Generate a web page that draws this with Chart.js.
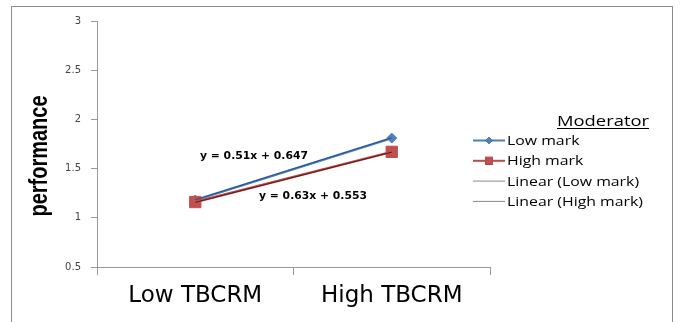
<!DOCTYPE html>
<html>
<head>
<meta charset="utf-8">
<script src="https://cdn.jsdelivr.net/npm/chart.js@4"></script>
<style>
  html, body { margin: 0; padding: 0; background: #fff; }
  #wrap { position: relative; width: 682px; height: 322px; overflow: hidden; }
  #frame { position: absolute; left: 11px; top: 6px; width: 660px; height: 340px; border: 1px solid #8c8c8c; }
  canvas { position: absolute; left: 0; top: 0; }
</style>
</head>
<body>
<div id="wrap">
  <div id="frame"></div>
  <canvas id="c" width="682" height="322"></canvas>
</div>
<script>
var categories = ['Low TBCRM', 'High TBCRM'];
var lowMark = [1.18, 1.81];
var highMark = [1.16, 1.67];
var trendLow = [1.183, 1.813];
var trendHigh = [1.157, 1.667];
var yTicks = [0.5, 1, 1.5, 2, 2.5, 3];
var equations = ['y = 0.63x + 0.553', 'y = 0.51x + 0.647'];
var yTitle = 'performance';
var legendTitle = 'Moderator';

// text stretched sideways to a given width, like the wide original
function wideText(ctx, text, x, y, width) {
  var m = ctx.measureText(text).width;
  ctx.save();
  ctx.translate(x, y);
  ctx.scale(width / m, 1);
  ctx.fillText(text, 0, 0);
  ctx.restore();
}

// legend on the right, drawn by hand so the swatches look like Excel's
var sideLegend = {
  id: 'sideLegend',
  afterDraw: function (chart) {
    var ctx = chart.ctx;
    ctx.save();
    ctx.fillStyle = '#000';
    ctx.font = '14px "Open Sans"';
    ctx.textBaseline = 'alphabetic';
    ctx.textAlign = 'left';
    wideText(ctx, legendTitle, 557, 125.5, 92);
    ctx.strokeStyle = '#000';
    ctx.lineWidth = 1;
    ctx.beginPath();
    ctx.moveTo(557, 128.5);
    ctx.lineTo(649, 128.5);
    ctx.stroke();

    ctx.font = '12px "Open Sans"';
    var k = 136 / ctx.measureText('Linear (High mark)').width;
    chart.data.datasets.forEach(function (ds, i) {
      var y = 140.5 + i * 20.3;
      ctx.strokeStyle = ds.legendColor || ds.borderColor;
      ctx.lineWidth = ds.legendWidth || ds.borderWidth;
      ctx.beginPath();
      ctx.moveTo(473, y);
      ctx.lineTo(505, y);
      ctx.stroke();
      if (ds.pointRadius > 0) {
        Chart.helpers.drawPoint(ctx, {
          pointStyle: ds.pointStyle,
          radius: ds.pointRadius * 0.7,
          rotation: 0
        }, 489, y);
        ctx.fillStyle = ds.pointBackgroundColor;
        ctx.fill();
      }
      ctx.fillStyle = '#000';
      wideText(ctx, ds.label, 507, y + 4.5, ctx.measureText(ds.label).width * k);
    });
    ctx.restore();
  }
};

var extraText = {
  id: 'extraText',
  afterDraw: function (chart) {
    var ctx = chart.ctx;
    ctx.save();
    ctx.fillStyle = '#000';
    ctx.font = 'bold 10px "DejaVu Sans"';
    ctx.textBaseline = 'middle';
    ctx.textAlign = 'left';
    wideText(ctx, equations[1], 200, 156, 108);
    wideText(ctx, equations[0], 259, 196, 108);

    // narrow bold axis title
    ctx.translate(40, 156);
    ctx.rotate(-Math.PI / 2);
    ctx.scale(0.8, 1);
    ctx.textAlign = 'center';
    ctx.font = 'bold 25px "Liberation Sans"';
    ctx.fillText(yTitle, 0, 0);
    ctx.restore();
  }
};

new Chart(document.getElementById('c'), {
  type: 'line',
  data: {
    labels: categories,
    datasets: [
      {
        label: 'Low mark', data: lowMark, order: 2,
        borderColor: '#4a7ebb', borderWidth: 2.5, legendWidth: 2,
        pointStyle: 'rectRot', pointRadius: 5,
        pointBackgroundColor: '#4f81bd', pointBorderColor: '#4f81bd', pointBorderWidth: 1
      },
      {
        label: 'High mark', data: highMark, order: 1,
        borderColor: '#be4b48', borderWidth: 2.5, legendWidth: 2,
        pointStyle: 'rect', pointRadius: 8,
        pointBackgroundColor: '#c0504d', pointBorderColor: '#c0504d', pointBorderWidth: 1
      },
      {
        label: 'Linear (Low mark)', data: trendLow, order: 0,
        borderColor: '#2d5488', legendColor: '#888', borderWidth: 1, pointRadius: 0
      },
      {
        label: 'Linear (High mark)', data: trendHigh, order: 0,
        borderColor: '#5a1a18', legendColor: '#888', borderWidth: 1, pointRadius: 0
      }
    ]
  },
  plugins: [sideLegend, extraText],
  options: {
    responsive: false,
    animation: false,
    events: [],
    layout: { padding: { left: 0, right: 192, top: 21, bottom: 0 } },
    plugins: { legend: { display: false }, tooltip: { enabled: false } },
    scales: {
      x: {
        offset: true,
        grid: { offset: true, drawOnChartArea: false, color: '#999', tickLength: 8 },
        border: { color: '#999' },
        ticks: { color: '#000', font: { family: 'DejaVu Sans', size: 23 }, padding: 7 },
        afterFit: function (s) { s.height = 55; }
      },
      y: {
        min: 0.5, max: 3,
        afterBuildTicks: function (s) { s.ticks = yTicks.map(function (v) { return { value: v }; }); },
        grid: { drawOnChartArea: false, color: '#999', tickLength: 6 },
        border: { color: '#999' },
        ticks: {
          color: '#444', font: { family: 'DejaVu Sans', size: 10 }, padding: 10,
          callback: function (v) { return String(v); }
        },
        afterFit: function (s) { s.width = 97; }
      }
    }
  }
});
</script>
</body>
</html>
